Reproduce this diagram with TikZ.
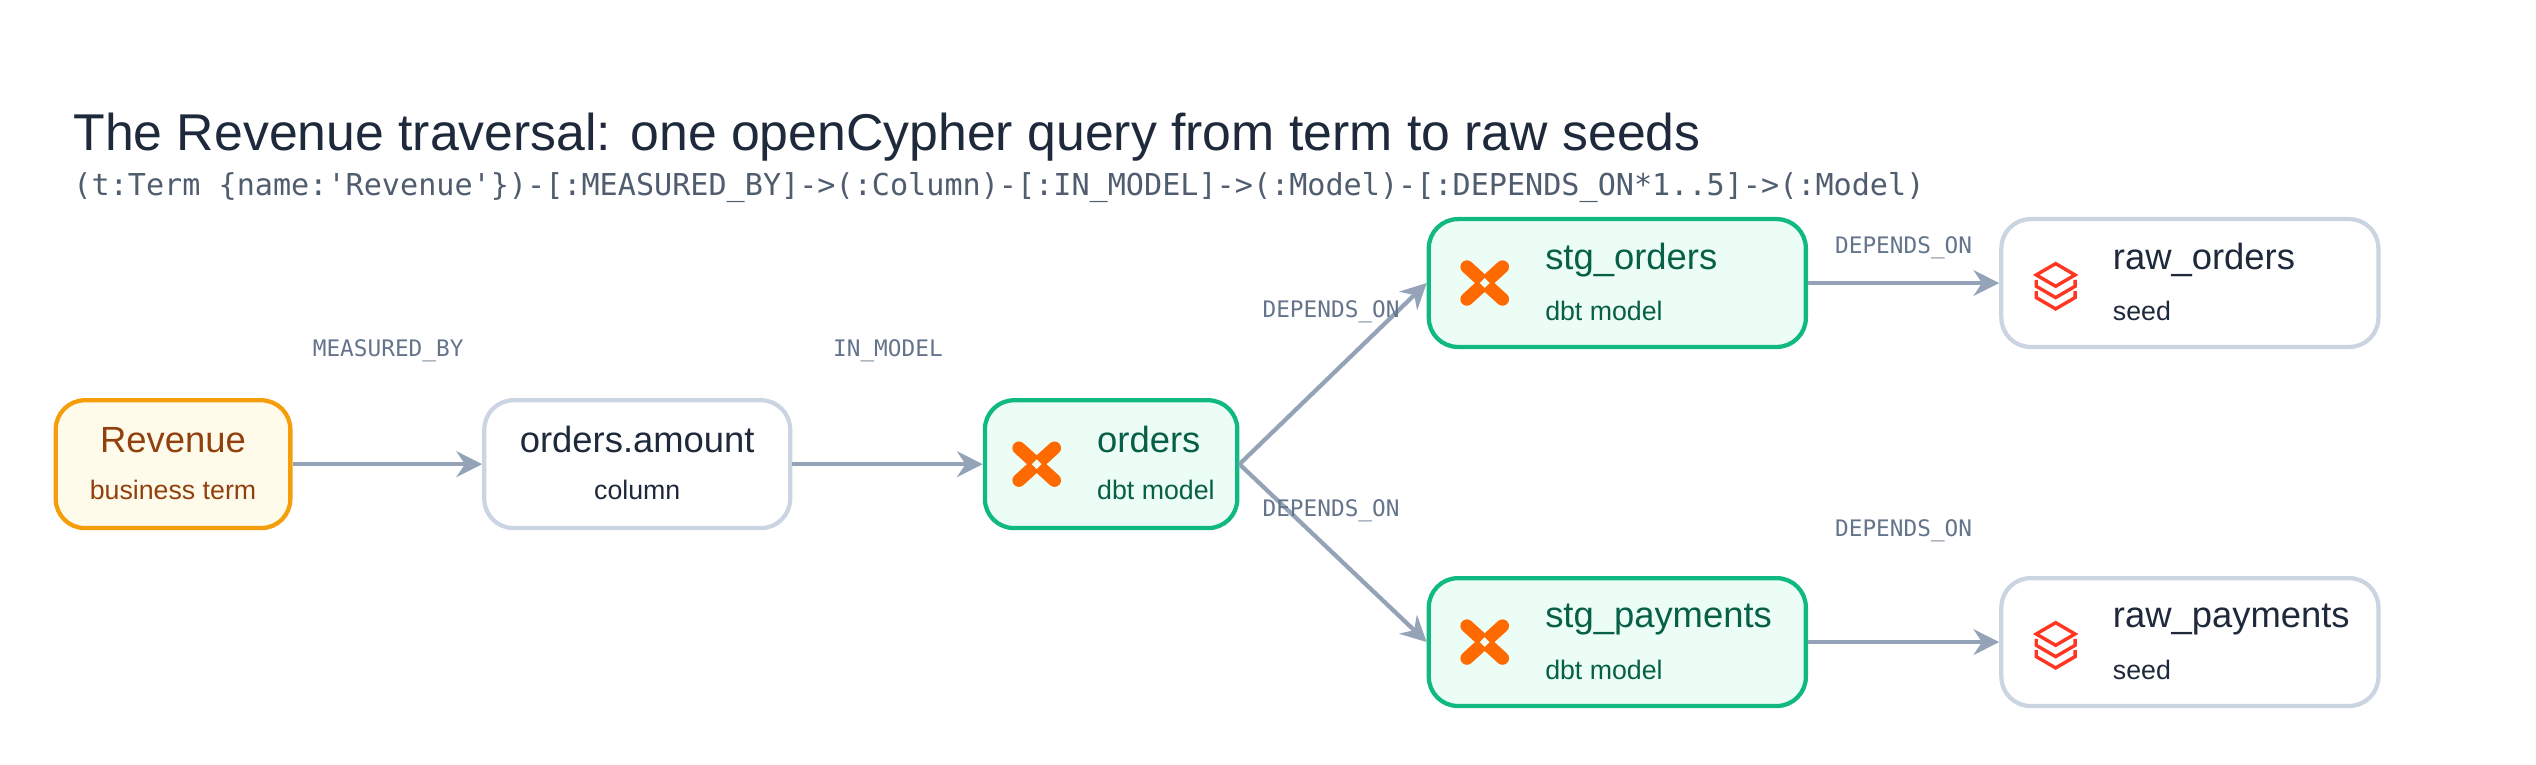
\documentclass[tikz,border=0pt]{standalone}
\usepackage{fontspec}
\setmainfont{Liberation Sans}
\newfontfamily\monof{DejaVu Sans Mono}
\usetikzlibrary{arrows.meta}
\definecolor{slate}{HTML}{94A3B8}
\definecolor{lbl}{HTML}{64748B}
\definecolor{gb}{HTML}{CBD5E1}
\definecolor{ink}{HTML}{1E293B}
\definecolor{grn}{HTML}{10B981}
\definecolor{grnf}{HTML}{ECFDF5}
\definecolor{grnt}{HTML}{065F46}
\definecolor{org}{HTML}{F59E0B}
\definecolor{orgf}{HTML}{FFFBEB}
\definecolor{orgt}{HTML}{92400E}
\definecolor{dbt}{HTML}{FF6A00}
\definecolor{dbx}{HTML}{FF3621}
\begin{document}
\begin{tikzpicture}[x=0.01cm,y=-0.01cm,
 box/.style={draw=gb,fill=white,line width=0.75pt,rounded corners=0.18cm,minimum width=#1,minimum height=0.79cm,inner sep=0pt},
 gbox/.style={box=#1,draw=grn,fill=grnf},
 obox/.style={box=#1,draw=org,fill=orgf},
 edge/.style={draw=slate,line width=0.75pt,-{Stealth[length=4.5pt,width=4.5pt]}},
 elbl/.style={text=lbl,font=\monof\fontsize{4.0}{5}\selectfont},
 ttl/.style={font=\fontsize{6.4}{8}\selectfont,anchor=west},
 sub/.style={font=\fontsize{4.7}{6}\selectfont,anchor=west},
 dbticon/.pic={\draw[dbt,line width=2.3pt,line cap=round] (-11,-10)--(11,10) (11,-10)--(-11,10);
   \fill[grnf] (0,-3)--(3,0)--(0,3)--(-3,0)--cycle;},
 dbxicon/.pic={\draw[dbx,line width=0.6pt,line join=miter] (0,-12)--(12,-5)--(0,2)--(-12,-5)--cycle
   (-12,-2)--(-12,2)--(0,9)--(12,2)--(12,-2)
   (-12,5)--(-12,9)--(0,16)--(12,9)--(12,5);}
]
\useasboundingbox (0,0) rectangle (1568,472.4);
\node[anchor=west,text=ink,font=\fontsize{9.1}{11}\selectfont] (title) at (33,85) {The Revenue traversal: one openCypher query from term to raw seeds};
\node[anchor=west,text=lbl!80!black,font=\monof\fontsize{5.3}{7}\selectfont] (q) at (33,116) {(t:Term \{name:'Revenue'\})-[:MEASURED\_BY]->(:Column)-[:IN\_MODEL]->(:Model)-[:DEPENDS\_ON*1..5]->(:Model)};

\node[obox=1.45cm] (rev) at (107,287) {};
\node[text=orgt,font=\fontsize{6.4}{8}\selectfont] at (107,272) {Revenue};
\node[text=orgt,font=\fontsize{4.7}{6}\selectfont] at (107,303) {business term};

\node[box=1.89cm] (amt) at (394,287) {};
\node[text=ink,font=\fontsize{6.4}{8}\selectfont] at (394,272) {orders.amount};
\node[text=ink,font=\fontsize{4.7}{6}\selectfont] at (394,303) {column};

\node[gbox=1.56cm] (ord) at (687,287) {};
\pic at (641,287) {dbticon};
\node[ttl,text=grnt] at (666,272) {orders};
\node[sub,text=grnt] at (666,303) {dbt model};

\node[gbox=2.33cm] (so) at (1000,175) {};
\pic at (918,175) {dbticon};
\node[ttl,text=grnt] at (943,161) {stg\_orders};
\node[sub,text=grnt] at (943,192) {dbt model};

\node[gbox=2.33cm] (sp) at (1000,397) {};
\pic at (918,397) {dbticon};
\node[ttl,text=grnt] at (943,383) {stg\_payments};
\node[sub,text=grnt] at (943,414) {dbt model};

\node[box=2.33cm] (ro) at (1354,175) {};
\pic at (1271,175) {dbxicon};
\node[ttl,text=ink] at (1294,161) {raw\_orders};
\node[sub,text=ink] at (1294,192) {seed};

\node[box=2.33cm] (rp) at (1354,397) {};
\pic at (1271,397) {dbxicon};
\node[ttl,text=ink] at (1294,383) {raw\_payments};
\node[sub,text=ink] at (1294,414) {seed};

\draw[edge] (rev) -- (amt);
\draw[edge] (amt) -- (ord);
\draw[edge] (ord.east) -- (so.west);
\draw[edge] (ord.east) -- (sp.west);
\draw[edge] (so) -- (ro);
\draw[edge] (sp) -- (rp);

\node[elbl] (l1) at (240,217) {MEASURED\_BY};
\node[elbl] (l2) at (549,217) {IN\_MODEL};
\node[elbl] (l3) at (823,193) {DEPENDS\_ON};
\node[elbl] (l4) at (823,316) {DEPENDS\_ON};
\node[elbl] (l5) at (1177,153) {DEPENDS\_ON};
\node[elbl] (l6) at (1177,328) {DEPENDS\_ON};
\end{tikzpicture}
\end{document}
